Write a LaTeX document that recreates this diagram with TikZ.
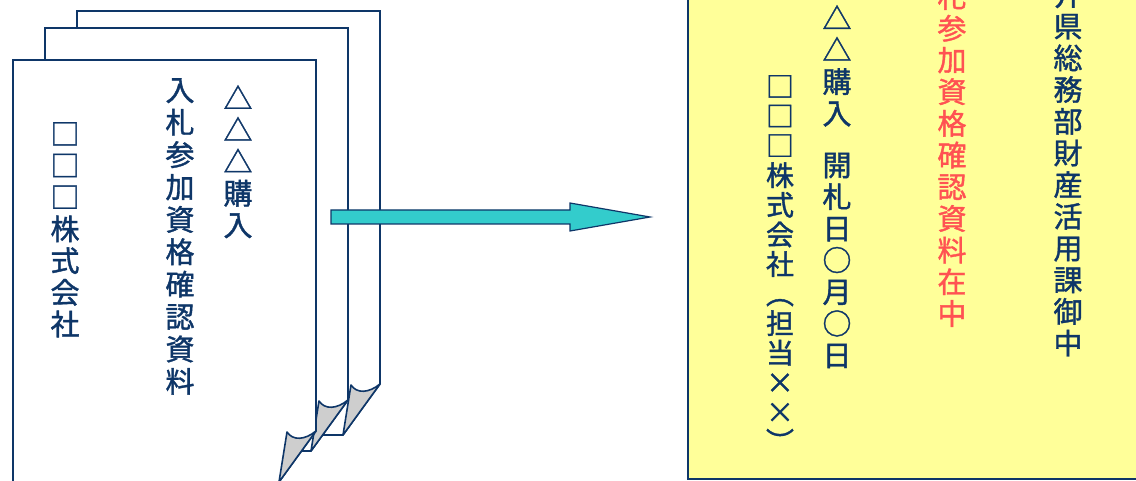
\documentclass[tikz,border=0pt]{standalone}
\usepackage{fontspec}
\usetikzlibrary{calc}
\newfontfamily\cjk{Noto Sans CJK JP}[FakeBold=1.3]
\definecolor{navy}{RGB}{14,54,104}
\definecolor{paleyellow}{RGB}{255,255,153}
\definecolor{arrowfill}{RGB}{51,204,204}
\definecolor{curlgray}{RGB}{206,206,206}
\definecolor{notered}{RGB}{255,82,82}
\tikzset{
  sheet/.style={draw=navy, line width=1.6pt, fill=white, line join=miter},
  curl/.style={draw=navy, line width=1.6pt, fill=curlgray, line join=round},
  envelope/.style={draw=navy, line width=1.8pt, fill=paleyellow},
  blockarrow/.style={draw=navy, line width=1.2pt, fill=arrowfill, line join=miter},
  vcol/.style={inner sep=0pt, anchor=north, align=center, text=navy,
    font=\cjk\fontsize{29}{31.7}\selectfont},
  redcol/.style={vcol, text=notered},
  smallcol/.style={vcol, font=\cjk\fontsize{28}{29.6}\selectfont},
}
% a sheet of paper with a curled lower right corner:
% #1 left, #2 top, #3 right, #4 bottom
\newcommand\docsheet[4]{%
  \draw[sheet] (#1,#2) -- (#3,#2) -- (#3,#4-51) -- (#3-37,#4) -- (#1,#4) -- cycle;
  \draw[curl] (#3,#4-51) .. controls (#3-11,#4-42) and (#3-23,#4-41) .. (#3-29,#4-50)
     -- (#3-37,#4) -- cycle;
}
\begin{document}
\begin{tikzpicture}[x=1pt,y=-1pt]
\useasboundingbox (0,0) rectangle (1136,481);
\clip (0,0) rectangle (1136,481);

% stack of documents, back to front
\docsheet{77}{11}{380}{435}
\docsheet{45}{28}{348}{451}
\docsheet{13}{60}{316}{482}

\node[vcol] (title3) at (238,85) {△\\△\\△\\購\\入};
\node[vcol, font=\cjk\fontsize{29}{32.4}\selectfont] (title2) at (180,78)
  {入\\札\\参\\加\\資\\格\\確\\認\\資\\料};
\node[vcol] (firm1) at (65,122) {□\\□\\□\\株\\式\\会\\社};

% envelope front
\draw[envelope] (688,-10) rectangle (1150,479);
\node[vcol] (addressee) at (1068,-19) {井\\県\\総\\務\\部\\財\\産\\活\\用\\課\\御\\中};
\node[redcol] (enclosed) at (952,-17) {札\\参\\加\\資\\格\\確\\認\\資\\料\\在\\中};
\node[vcol] (subject) at (837,5) {△\\△\\購\\入\\[20pt]開\\札\\日\\○\\月\\○\\日};
\node[smallcol] (sender) at (780,75) {□\\□\\□\\株\\式\\会\\社\\︵\\担\\当\\×\\×\\︶};

% arrow from the documents to the envelope
\coordinate (tail) at (331,217);
\coordinate (tip) at (650,217);
\draw[blockarrow] ($(tail)+(0,-7)$) -- ++(239,0) -- ++(0,-7) -- (tip)
  -- ++(-80,14) -- ++(0,-7) -- ($(tail)+(0,7)$) -- cycle;
\end{tikzpicture}
\end{document}
